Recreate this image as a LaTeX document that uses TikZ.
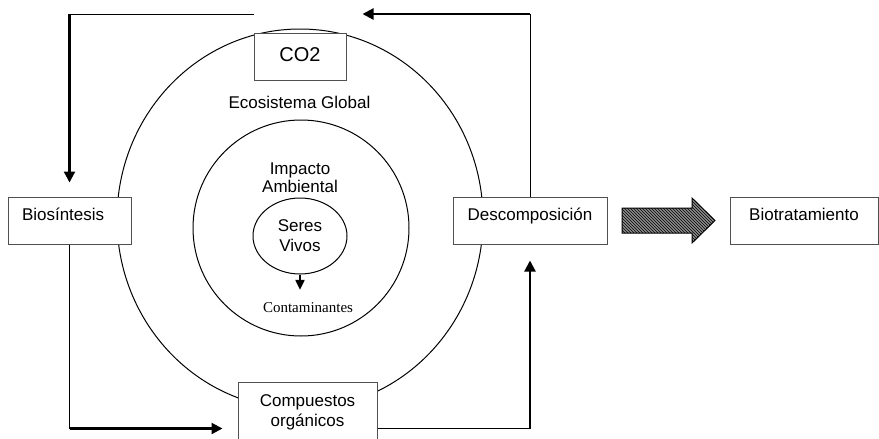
\documentclass[tikz,border=0pt]{standalone}
\usepackage{fontspec}
\setmainfont{Liberation Sans}
\newfontfamily\serifface{Liberation Serif}
\usepackage{tikz}
\usetikzlibrary{positioning, arrows.meta, calc, shapes.geometric, patterns}
\definecolor{ink}{HTML}{000000}
\definecolor{frame}{HTML}{505050}
\definecolor{hatch}{HTML}{8C8C8C}

\begin{document}
\begin{tikzpicture}[x=1pt, y=-1pt,
      every node/.style={font=\fontsize{17}{20}\selectfont},
      box/.style={draw=frame, fill=white, line width=1pt, inner sep=0pt},
      rowbox/.style={box, text height=23.5pt, text depth=23.5pt},
      thinline/.style={line width=1pt, color=ink},
      flow/.style={line width=2.2pt, color=ink,
        -{Triangle[length=11pt, width=11pt]}},
      drip/.style={line width=2pt, color=ink,
        -{Triangle[length=10pt, width=9pt]}}]

    \useasboundingbox (0,0) rectangle (879,439);

    \draw[thinline] (300,219) ellipse [x radius=183pt, y radius=190pt];
    \draw[thinline] (301,228) circle [radius=108pt];

    \node[anchor=base] (eco) at (299.5,108) {Ecosistema Global};
    \node[align=center, inner sep=0pt,
      font=\fontsize{17}{18}\selectfont] (imp) at (300,178) {Impacto\\Ambiental};
    \node[draw=ink, line width=1pt, ellipse, inner sep=0pt, align=center,
      minimum width=94pt, minimum height=76pt] (seres) at (300,236) {Seres\\Vivos};
    \node[anchor=base, inner sep=0pt,
      font=\serifface\fontsize{15}{18}\selectfont] (cont) at (308,312) {Contaminantes};
    \draw[drip] (seres.south) -- ($(seres.south |- cont.north)+(0,-12)$);

    \node[box, minimum width=92pt, text height=28pt, text depth=19pt,
      font=\fontsize{20}{24}\selectfont] (co2) at (300,56.5) {CO2};
    \node[rowbox, text width=95pt, inner xsep=14pt, align=left] (bio) at (69.5,220.5) {Biosíntesis};
    \node[rowbox, minimum width=154pt] (desc) at (530,220.5) {Descomposición};
    \node[rowbox, minimum width=148pt] (biot) at (804,220.5) {Biotratamiento};
    \node[box, minimum width=139pt, minimum height=60pt, align=center,
      anchor=north] (comp) at (307.5,382) {Compuestos\\orgánicos};

    \draw[line width=1pt, draw=ink, preaction={fill=hatch},
      pattern=north west lines, pattern color=ink]
      (622,208) -- (692,208) -- (692,198) -- (715,220.5)
      -- (692,243) -- (692,233) -- (622,233) -- cycle;

    \coordinate (top) at (0,14);
    \coordinate (low) at (0,428.5);

    \draw[thinline] (desc.north) -- (desc.north |- top);
    \draw[flow] (desc.north |- top) -- ($(co2.east |- top)+(16,0)$);
    \draw[thinline] (co2.west |- top) -- (bio.north |- top);
    \draw[flow] (bio.north |- top) -- ($(bio.north)+(0,-14)$);

    \draw[thinline] (bio.south) -- (bio.south |- low);
    \draw[flow] (bio.south |- low) -- ($(comp.west |- low)+(-15,0)$);
    \draw[thinline] (comp.east |- low) -- (desc.south |- low);
    \draw[flow] (desc.south |- low) -- ($(desc.south)+(0,16)$);
  \end{tikzpicture}
\end{document}
